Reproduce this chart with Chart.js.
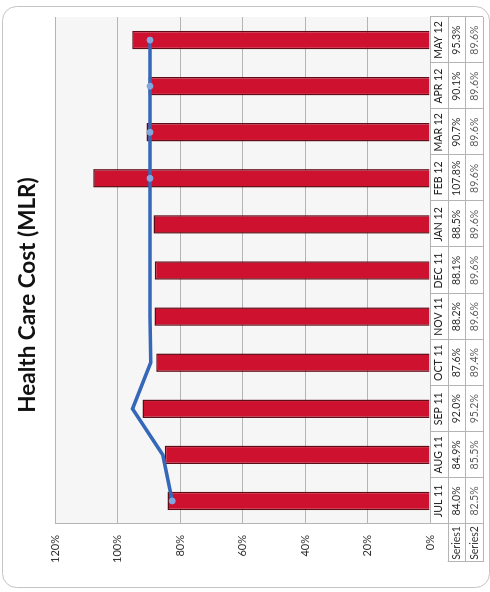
<!DOCTYPE html>
<html>
<head>
<meta charset="utf-8">
<script src="https://cdn.jsdelivr.net/npm/chart.js@4/dist/chart.umd.min.js"></script>
<style>
  html, body { margin: 0; padding: 0; background: #ffffff; overflow: hidden; }
  body { width: 490px; height: 592px; position: relative; }
  /* The chart is laid out landscape and turned a quarter turn counter-clockwise */
  #turn {
    position: absolute; left: 0; top: 0;
    width: 592px; height: 490px;
    transform-origin: 0 0;
    transform: translateY(592px) rotate(-90deg);
  }
</style>
</head>
<body>
<div id="turn"><canvas id="c" width="592" height="490"></canvas></div>
<script>
// Monthly medical loss ratio, July 2011 – May 2012
const categories = ['JUL 11', 'AUG 11', 'SEP 11', 'OCT 11', 'NOV 11', 'DEC 11',
                    'JAN 12', 'FEB 12', 'MAR 12', 'APR 12', 'MAY 12'];
const series1 = [84.0, 84.9, 92.0, 87.6, 88.2, 88.1, 88.5, 107.8, 90.7, 90.1, 95.3];
const series2 = [82.5, 85.5, 95.2, 89.4, 89.6, 89.6, 89.6, 89.6, 89.6, 89.6, 89.6];
const seriesNames = ['Series1', 'Series2'];
const valueTicks = [0, 20, 40, 60, 80, 100, 120];
const chartTitle = 'Health Care Cost (MLR)';

const FONT = 'Lato, "Open Sans", "DejaVu Sans", sans-serif';
const GRID = '#b4b4b4';

// Outer rounded frame, white page, light plot background and the heading
const framePlugin = {
  id: 'frame',
  beforeDraw(chart) {
    const { ctx, chartArea: a } = chart;
    ctx.save();
    ctx.fillStyle = '#ffffff';
    ctx.fillRect(0, 0, chart.width, chart.height);
    ctx.beginPath();
    ctx.roundRect(4.5, 2.5, 581, 487, 14);
    ctx.strokeStyle = '#c4c4c4';
    ctx.lineWidth = 1;
    ctx.stroke();
    ctx.fillStyle = '#f6f6f6';
    ctx.fillRect(a.left, a.top, a.right - a.left, a.bottom - a.top);
    ctx.fillStyle = '#111111';
    ctx.font = 'bold 22.5px ' + FONT;
    ctx.textAlign = 'center';
    ctx.textBaseline = 'middle';
    ctx.fillText(chartTitle, 297, 28);
    ctx.restore();
  }
};

// Data table under the category axis
const tablePlugin = {
  id: 'dataTable',
  afterDraw(chart) {
    const { ctx, chartArea: a, scales: { x } } = chart;
    const step = x.getPixelForValue(1) - x.getPixelForValue(0);
    const rowH = 17.7;
    const rows = [a.bottom, a.bottom + rowH, a.bottom + 2 * rowH, a.bottom + 3 * rowH];
    const keyLeft = a.left - 38;
    const p = v => Math.round(v) + 0.5;
    ctx.save();
    ctx.strokeStyle = GRID;
    ctx.lineWidth = 1;
    ctx.beginPath();
    ctx.moveTo(a.left, p(rows[0])); ctx.lineTo(a.right, p(rows[0]));
    for (let r = 1; r < rows.length; r++) {
      ctx.moveTo(keyLeft, p(rows[r])); ctx.lineTo(a.right, p(rows[r]));
    }
    for (let i = 0; i <= categories.length; i++) {
      const bx = p(x.getPixelForValue(Math.min(i, categories.length - 1)) + (i === categories.length ? step / 2 : -step / 2));
      ctx.moveTo(bx, rows[0]); ctx.lineTo(bx, rows[3]);
    }
    ctx.moveTo(p(keyLeft), rows[1]); ctx.lineTo(p(keyLeft), rows[3]);
    ctx.stroke();

    ctx.font = '10.5px ' + FONT;
    ctx.textAlign = 'center';
    ctx.textBaseline = 'middle';
    const mid = r => (rows[r] + rows[r + 1]) / 2;
    categories.forEach((c, i) => {
      const cx = x.getPixelForValue(i);
      ctx.fillStyle = '#222222';
      ctx.fillText(c, cx, mid(0));
      ctx.fillStyle = '#2e2e2e';
      ctx.fillText(series1[i].toFixed(1) + '%', cx, mid(1));
      ctx.fillStyle = '#5e5e5e';
      ctx.fillText(series2[i].toFixed(1) + '%', cx, mid(2));
    });
    ctx.fillStyle = '#333333';
    seriesNames.forEach((n, k) => ctx.fillText(n, (keyLeft + a.left) / 2, mid(k + 1)));
    ctx.restore();
  }
};

new Chart(document.getElementById('c'), {
  data: {
    labels: categories,
    datasets: [
      {
        type: 'line',
        label: seriesNames[1],
        data: series2,
        order: 0,
        borderColor: '#3568b9',
        borderWidth: 3.5,
        tension: 0,
        pointRadius: ctx => (series2[ctx.dataIndex] < series1[ctx.dataIndex] ? 3 : 0),
        pointBackgroundColor: '#82a7de',
        pointBorderColor: '#82a7de',
        pointBorderWidth: 1
      },
      {
        type: 'bar',
        label: seriesNames[0],
        data: series1,
        order: 1,
        backgroundColor: '#cf1130',
        borderColor: '#5e0c16',
        borderWidth: 1.5,
        categoryPercentage: 0.8,
        barPercentage: 0.5
      }
    ]
  },
  options: {
    responsive: false,
    devicePixelRatio: 1,
    animation: false,
    layout: { padding: { top: 55, right: 17, bottom: 0, left: 0 } },
    plugins: {
      legend: { display: false },
      tooltip: { enabled: false },
      title: { display: false }
    },
    scales: {
      x: {
        type: 'category',
        offset: true,
        grid: { display: false },
        border: { display: false },
        ticks: { display: false },
        afterFit: s => { s.height = 60; }
      },
      y: {
        min: 0,
        max: 120,
        afterBuildTicks: s => { s.ticks = valueTicks.map(v => ({ value: v })); },
        ticks: {
          padding: 11,
          color: '#2e2e2e',
          font: { family: FONT, size: 11 },
          callback: v => v + '%'
        },
        grid: { color: GRID, lineWidth: 1, drawTicks: false },
        border: { display: true, color: GRID },
        afterFit: s => { s.width = 68; }
      }
    }
  },
  plugins: [framePlugin, tablePlugin]
});
</script>
</body>
</html>
